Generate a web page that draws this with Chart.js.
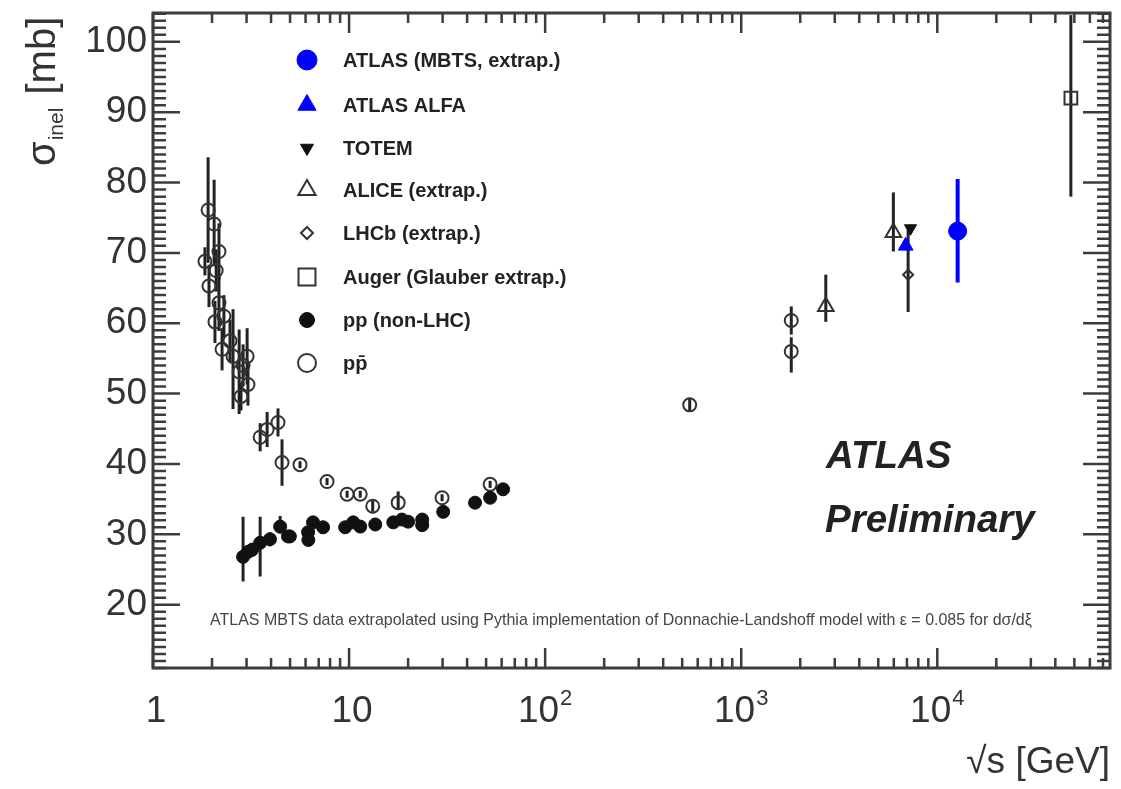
<!DOCTYPE html>
<html>
<head>
<meta charset="utf-8">
<script src="https://cdn.jsdelivr.net/npm/chart.js@4.4.1/dist/chart.umd.min.js"></script>
<style>
  html, body { margin: 0; padding: 0; background: #fff; }
  #wrap { width: 1121px; height: 789px; }
</style>
</head>
<body>
<div id="wrap"><canvas id="chart" width="1121" height="789"></canvas></div>
<script>
// axis ranges and tick labels
const xRange = [1, 76000];
const yRange = [11, 104.1];
// decade labels: [mantissa, exponent]
const xDecadeLabels = { 1: ["1", ""], 10: ["10", ""], 100: ["10", "2"], 1000: ["10", "3"], 10000: ["10", "4"] };
const yTickLabels = [20, 30, 40, 50, 60, 70, 80, 90, 100];

// ATLAS (MBTS, extrap.)
const mbtsX = [12700];
const mbtsY = [73.1];
const mbtsUp = [7.4];
const mbtsDown = [7.3];

// ATLAS ALFA
const alfaX = [6900];
const alfaY = [71.0];
const alfaUp = [0.6];
const alfaDown = [0.6];

// TOTEM
const totemX = [7300];
const totemY = [73.5];
const totemUp = [0.5];
const totemDown = [0.5];

// ALICE (extrap.)
const aliceX = [2700, 5970];
const aliceY = [62.4, 72.9];
const aliceUp = [4.5, 5.7];
const aliceDown = [2.2, 2.7];

// LHCb (extrap.)
const lhcbX = [7100];
const lhcbY = [66.9];
const lhcbUp = [6.4];
const lhcbDown = [5.3];

// Auger (Glauber extrap.)
const augerX = [48000];
const augerY = [92.0];
const augerUp = [11.8];
const augerDown = [14.0];

// pp (non-LHC)
const ppX = [2.88, 3.05, 3.2, 3.52, 3.95, 4.45, 4.88, 4.99, 6.18, 6.2, 6.55, 7.37, 9.55, 10.5, 11.4, 13.6, 16.8, 18.6, 20.0, 23.6, 23.6, 30.2, 43.9, 52.4, 61.0];
const ppY = [26.8, 27.5, 27.8, 28.8, 29.3, 31.1, 29.7, 29.7, 30.3, 29.2, 31.7, 31.0, 31.0, 31.7, 31.1, 31.4, 31.7, 32.1, 31.8, 32.1, 31.3, 33.2, 34.5, 35.2, 36.4];
const ppUp = [5.7, 1, 1, 3.7, 1, 1.5, 0.8, 0.8, 0.6, 0.6, 0.6, 0.6, 0.5, 0.5, 0.5, 0.5, 0.5, 0.5, 0.5, 0.5, 0.5, 0.5, 0.5, 0.5, 0.5];
const ppDown = [3.5, 1, 1, 4.8, 1, 1, 0.8, 0.8, 0.6, 0.6, 0.6, 0.6, 0.5, 0.5, 0.5, 0.5, 0.5, 0.5, 0.5, 0.5, 0.5, 0.5, 0.5, 0.5, 0.5];

// p pbar
const ppbarX = [1.84, 1.91, 1.93, 2.05, 2.07, 2.10, 2.17, 2.17, 2.25, 2.30, 2.47, 2.56, 2.75, 2.81, 2.88, 3.02, 3.05, 3.52, 3.82, 4.34, 4.55, 5.62, 7.72, 9.77, 11.4, 13.2, 17.8, 29.8, 52.4, 546, 1800, 1800];
const ppbarY = [68.8, 76.1, 65.3, 74.1, 60.2, 67.5, 70.2, 62.9, 56.3, 61.0, 57.5, 55.3, 53.1, 49.6, 54.0, 55.3, 51.3, 43.8, 44.9, 45.9, 40.2, 39.9, 37.5, 35.7, 35.7, 34.0, 34.5, 35.2, 37.1, 48.4, 60.4, 56.0];
const ppbarUp = [2, 7.5, 3, 6.3, 3, 3, 4, 4, 3, 3, 3, 6.7, 6, 2, 3, 4, 3, 2, 2.5, 2, 3.3, 0.5, 0.5, 0.5, 0.5, 0.8, 1.6, 0.5, 0.5, 1, 2, 2];
const ppbarDown = [2, 7.5, 3, 6, 3, 3, 4, 4, 3, 3, 3, 7.5, 6, 2, 3, 4, 3, 2, 2.5, 2, 3.3, 0.5, 0.5, 0.5, 0.5, 0.8, 1, 0.5, 0.5, 1, 2, 3];

const FONT = "'Liberation Sans', Arial, Helvetica, sans-serif";
const INK = "#222";

function toPoints(xs, ys, up, down) {
  return xs.map((x, i) => ({ x, y: ys[i], up: up[i], down: down[i] }));
}

function series(label, points, style) {
  return Object.assign({
    label,
    data: points,
    showLine: false,
    pointBorderWidth: 2,
    errorColor: INK,
    errorWidth: 3
  }, style);
}

const datasets = [
  series("ATLAS (MBTS, extrap.)", toPoints(mbtsX, mbtsY, mbtsUp, mbtsDown), {
    pointStyle: "circle", pointRadius: 9, legendRadius: 10,
    pointBackgroundColor: "#0000ff", pointBorderColor: "#0000ff", pointBorderWidth: 1,
    errorColor: "#0000ff", errorWidth: 4
  }),
  series("ATLAS ALFA", toPoints(alfaX, alfaY, alfaUp, alfaDown), {
    pointStyle: "triangle", pointRadius: 8.5, legendRadius: 10.5,
    pointBackgroundColor: "#0000ff", pointBorderColor: "#0000ff", pointBorderWidth: 1,
    errorColor: "#0000ff"
  }),
  series("TOTEM", toPoints(totemX, totemY, totemUp, totemDown), {
    pointStyle: "triangle", pointRotation: 180, pointRadius: 7, legendRadius: 7.5,
    pointBackgroundColor: "#111", pointBorderColor: "#111", pointBorderWidth: 1
  }),
  series("ALICE (extrap.)", toPoints(aliceX, aliceY, aliceUp, aliceDown), {
    pointStyle: "triangle", pointRadius: 9, legendRadius: 10,
    pointBackgroundColor: "rgba(0,0,0,0)", pointBorderColor: "#333"
  }),
  series("LHCb (extrap.)", toPoints(lhcbX, lhcbY, lhcbUp, lhcbDown), {
    pointStyle: "rectRot", pointRadius: 5, legendRadius: 6,
    pointBackgroundColor: "rgba(0,0,0,0)", pointBorderColor: "#333"
  }),
  series("Auger (Glauber extrap.)", toPoints(augerX, augerY, augerUp, augerDown), {
    pointStyle: "rect", pointRadius: 9, legendRadius: 12,
    pointBackgroundColor: "rgba(0,0,0,0)", pointBorderColor: "#333"
  }),
  series("pp (non-LHC)", toPoints(ppX, ppY, ppUp, ppDown), {
    pointStyle: "circle", pointRadius: 6.5, legendRadius: 7.5,
    pointBackgroundColor: "#111", pointBorderColor: "#111", pointBorderWidth: 1
  }),
  series("pp\u0304", toPoints(ppbarX, ppbarY, ppbarUp, ppbarDown), {
    pointStyle: "circle", pointRadius: 6.5, legendRadius: 9,
    pointBackgroundColor: "rgba(0,0,0,0)", pointBorderColor: "#333"
  })
];

function isDecade(v) {
  const l = Math.log10(v);
  return Math.abs(l - Math.round(l)) < 1e-9;
}

function drawMarker(ctx, ds, radius, x, y) {
  ctx.save();
  ctx.fillStyle = ds.pointBackgroundColor;
  ctx.strokeStyle = ds.pointBorderColor;
  ctx.lineWidth = ds.pointBorderWidth;
  Chart.helpers.drawPoint(ctx, {
    pointStyle: ds.pointStyle,
    rotation: ds.pointRotation || 0,
    radius,
    borderWidth: ds.pointBorderWidth
  }, x, y);
  ctx.restore();
}

const errorBars = {
  id: "errorBars",
  beforeDatasetsDraw(chart) {
    const { ctx, chartArea, scales } = chart;
    ctx.save();
    ctx.beginPath();
    ctx.rect(chartArea.left, chartArea.top, chartArea.right - chartArea.left, chartArea.bottom - chartArea.top);
    ctx.clip();
    chart.data.datasets.forEach(ds => {
      ctx.strokeStyle = ds.errorColor;
      ctx.lineWidth = ds.errorWidth;
      ds.data.forEach(p => {
        const px = scales.x.getPixelForValue(p.x);
        ctx.beginPath();
        ctx.moveTo(px, scales.y.getPixelForValue(p.y + p.up));
        ctx.lineTo(px, scales.y.getPixelForValue(p.y - p.down));
        ctx.stroke();
      });
    });
    ctx.restore();
  }
};

const frameAndText = {
  id: "frameAndText",
  afterDraw(chart) {
    const { ctx, chartArea: a, scales } = chart;
    ctx.save();

    // inward ticks on all four sides
    ctx.strokeStyle = "#3c3c3c";
    ctx.lineWidth = 2.5;
    scales.x.ticks.forEach(t => {
      const px = scales.x.getPixelForValue(t.value);
      const len = isDecade(t.value) ? 20 : 10;
      ctx.beginPath();
      ctx.moveTo(px, a.bottom); ctx.lineTo(px, a.bottom - len);
      ctx.moveTo(px, a.top); ctx.lineTo(px, a.top + len);
      ctx.stroke();
    });
    scales.y.ticks.forEach(t => {
      const py = scales.y.getPixelForValue(t.value);
      const len = t.value % 10 === 0 ? 27 : 13;
      ctx.beginPath();
      ctx.moveTo(a.left, py); ctx.lineTo(a.left + len, py);
      ctx.moveTo(a.right, py); ctx.lineTo(a.right - len, py);
      ctx.stroke();
    });

    // frame
    ctx.lineWidth = 3;
    ctx.strokeRect(a.left, a.top, a.right - a.left, a.bottom - a.top);

    // x decade labels with superscript exponents
    ctx.fillStyle = "#333";
    ctx.textBaseline = "alphabetic";
    ctx.textAlign = "left";
    scales.x.ticks.forEach(t => {
      const lab = xDecadeLabels[t.value];
      if (!lab) return;
      const px = scales.x.getPixelForValue(t.value);
      ctx.font = "37px " + FONT;
      const wm = ctx.measureText(lab[0]).width;
      ctx.font = "22px " + FONT;
      const we = lab[1] ? ctx.measureText(lab[1]).width + 1 : 0;
      const x0 = px - (wm + we) / 2 + (lab[1] ? 0 : 3);
      ctx.font = "37px " + FONT;
      ctx.fillText(lab[0], x0, 722);
      if (lab[1]) {
        ctx.font = "22px " + FONT;
        ctx.fillText(lab[1], x0 + wm + 1, 705);
      }
    });

    // legend
    const rows = [60, 105, 148, 190, 233, 277, 320, 363];
    ctx.font = "bold 20px " + FONT;
    ctx.textBaseline = "middle";
    ctx.textAlign = "left";
    chart.data.datasets.forEach((ds, i) => {
      drawMarker(ctx, ds, ds.legendRadius, 307, rows[i]);
      ctx.fillStyle = INK;
      ctx.fillText(ds.label, 343, rows[i] + 1);
    });

    // ATLAS Preliminary
    ctx.font = "italic bold 38.5px " + FONT;
    ctx.textBaseline = "alphabetic";
    ctx.fillStyle = INK;
    ctx.fillText("ATLAS", 826, 468);
    ctx.fillText("Preliminary", 825, 532);

    // footnote
    const note = "ATLAS MBTS data extrapolated using Pythia implementation of Donnachie-Landshoff model with \u03b5 = 0.085 for d\u03c3/d\u03be";
    ctx.font = "13px " + FONT;
    const w = ctx.measureText(note).width;
    const size = 13 * 822 / w;
    ctx.font = size.toFixed(2) + "px " + FONT;
    ctx.fillStyle = "#444";
    ctx.fillText(note, 210, 625);

    // x axis title
    ctx.font = "37px " + FONT;
    ctx.fillStyle = "#333";
    ctx.textAlign = "right";
    ctx.fillText("\u221As [GeV]", a.right, 773);

    // y axis title: sigma_inel [mb], rotated
    ctx.translate(55, 166);
    ctx.rotate(-Math.PI / 2);
    ctx.textAlign = "left";
    ctx.font = "40px " + FONT;
    ctx.fillText("\u03c3", 0, 0);
    let off = ctx.measureText("\u03c3").width + 1;
    ctx.font = "21px " + FONT;
    ctx.fillText("inel", off, 8);
    off += ctx.measureText("inel").width + 2;
    ctx.font = "40px " + FONT;
    ctx.fillText(" [mb]", off, 0);

    ctx.restore();
  }
};

new Chart(document.getElementById("chart"), {
  type: "scatter",
  data: { datasets },
  options: {
    responsive: false,
    animation: false,
    events: [],
    layout: { padding: { top: 13, right: 11, left: 0, bottom: 0 } },
    plugins: {
      legend: { display: false },
      tooltip: { enabled: false }
    },
    scales: {
      x: {
        type: "logarithmic",
        min: xRange[0],
        max: xRange[1],
        grid: { display: false, drawTicks: false },
        border: { display: false },
        afterBuildTicks: scale => {
          const ticks = [];
          for (let d = 1; d <= 10000; d *= 10) {
            for (let m = 1; m <= 9; m++) {
              if (d * m <= xRange[1]) ticks.push({ value: d * m });
            }
          }
          scale.ticks = ticks;
        },
        afterFit: scale => {
          scale.height = 121;
          scale.paddingLeft = 0;
          scale.paddingRight = 0;
        },
        ticks: {
          autoSkip: false,
          maxRotation: 0,
          font: { family: FONT, size: 10 },
          callback: () => ""
        }
      },
      y: {
        min: yRange[0],
        max: yRange[1],
        grid: { display: false, drawTicks: false },
        border: { display: false },
        afterBuildTicks: scale => {
          const ticks = [];
          for (let v = Math.ceil(yRange[0]); v <= yRange[1]; v++) ticks.push({ value: v });
          scale.ticks = ticks;
        },
        afterFit: scale => {
          scale.width = 153;
          scale.paddingTop = 0;
          scale.paddingBottom = 0;
        },
        ticks: {
          autoSkip: false,
          padding: 6,
          color: "#333",
          font: { family: FONT, size: 37 },
          callback: value => yTickLabels.includes(value) ? String(value) : ""
        }
      }
    }
  },
  plugins: [errorBars, frameAndText]
});
</script>
</body>
</html>
